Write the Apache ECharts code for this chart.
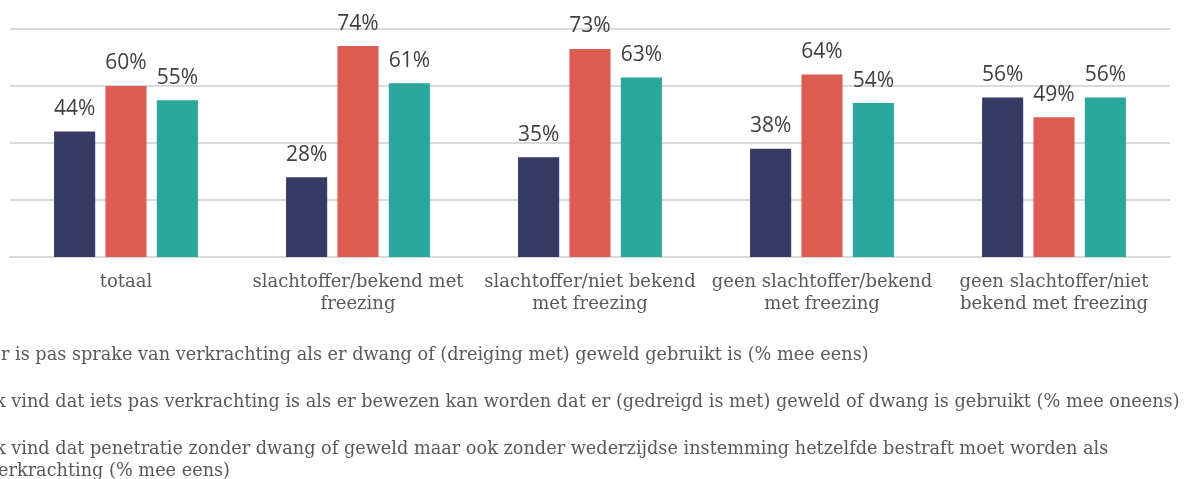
<!DOCTYPE html>
<html>
<head>
<meta charset="utf-8">
<script src="https://cdn.jsdelivr.net/npm/echarts@6/dist/echarts.min.js"></script>
<style>
html,body{margin:0;padding:0;background:#fff;}
#chart{width:1192px;height:479px;}
</style>
</head>
<body>
<div id="chart"></div>
<script>
const categories = [
  'totaal',
  'slachtoffer/bekend met\nfreezing',
  'slachtoffer/niet bekend\nmet freezing',
  'geen slachtoffer/bekend\nmet freezing',
  'geen slachtoffer/niet\nbekend met freezing'
];
const seriesNames = [
  'Er is pas sprake van verkrachting als er dwang of (dreiging met) geweld gebruikt is (% mee eens)',
  'Ik vind dat iets pas verkrachting is als er bewezen kan worden dat er (gedreigd is met) geweld of dwang is gebruikt (% mee oneens)',
  'Ik vind dat penetratie zonder dwang of geweld maar ook zonder wederzijdse instemming hetzelfde bestraft moet worden als verkrachting (% mee eens)'
];
const valuesA = [44, 28, 35, 38, 56];
const valuesB = [60, 74, 73, 64, 49];
const valuesC = [55, 61, 63, 54, 56];
const colors = ['#383a66', '#de5d53', '#2aa69b'];

const chart = echarts.init(document.getElementById('chart'));
const seriesData = [valuesA, valuesB, valuesC];
chart.setOption({
  animation: false,
  color: colors,
  grid: { left: 10, right: 22, top: 29, bottom: 222, containLabel: false, outerBoundsMode: 'none' },
  legend: {
    orient: 'vertical',
    left: -36,
    top: 339,
    height: 400,
    itemWidth: 14,
    itemHeight: 14,
    itemGap: 25,
    icon: 'rect',
    textStyle: {
      fontFamily: 'DejaVu Serif',
      fontSize: 17.7,
      color: '#595959',
      width: 1225,
      overflow: 'break',
      lineHeight: 22
    }
  },
  xAxis: {
    type: 'category',
    data: categories,
    axisTick: { show: false },
    axisLine: { lineStyle: { color: '#d9d9d9', width: 2 } },
    axisLabel: {
      interval: 0,
      margin: 14,
      fontFamily: 'DejaVu Serif',
      fontSize: 18,
      lineHeight: 22,
      color: '#595959'
    }
  },
  yAxis: {
    type: 'value',
    min: 0,
    max: 80,
    interval: 20,
    axisLabel: { show: false },
    axisLine: { show: false },
    axisTick: { show: false },
    splitLine: { lineStyle: { color: '#d9d9d9', width: 2 } }
  },
  series: seriesNames.map((name, i) => ({
    name: name,
    type: 'bar',
    data: seriesData[i],
    barGap: '25%',
    barCategoryGap: '38%',
    label: {
      show: true,
      position: 'top',
      distance: 12,
      formatter: '{c}%',
      fontFamily: 'Open Sans',
      fontSize: 21,
      color: '#404040'
    }
  }))
});
</script>
</body>
</html>
